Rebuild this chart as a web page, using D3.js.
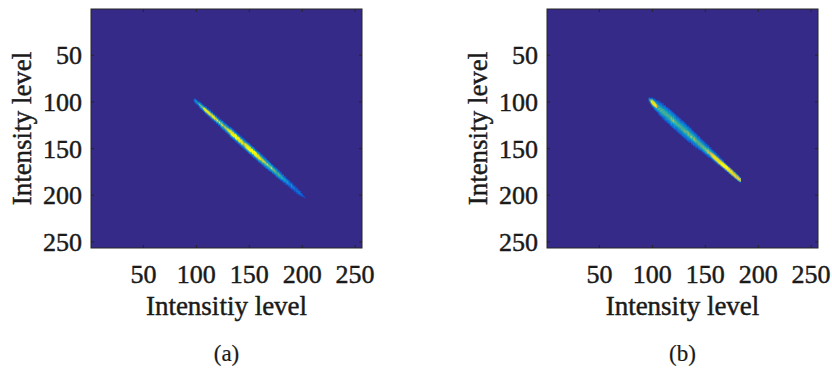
<!DOCTYPE html>
<html>
<head>
<meta charset="utf-8">
<script src="https://cdn.jsdelivr.net/npm/d3@7"></script>
<style>
  body { margin: 0; background: #fff; }
  text { font-family: "Liberation Serif", "Times New Roman", serif; fill: #1a1a1a; stroke: #1a1a1a; stroke-width: 0.45px; }
</style>
</head>
<body>
<div id="chart"></div>
<script>
// 2D joint histograms of intensity level (256 x 256 bins)
var ticks = [50, 100, 150, 200, 250];

// panel (a): one string per x bin, chars = level 0-9 for y = x + d, d centred on the string
var aStartX = 98;
var aRows = [
  "00001210000","00012321000","00013431000","00012421000",
  "00013531000","00124642100","00134643100","00125652100","00135653100","00146964100",
  "00159995100","01269996210","00159995100","01259995210","00169996100","01259995210",
  "00156965100","01269996210","00159995100","01269996210","00156965100","01256965210",
  "00146964100","01245654210","00146964100",
  "01345654310","01356965310","02346964320","01345654310","01246964210","02356965320",
  "01346964310","02359995320","01359995310",
  "12469996421","13599999531","12569999521","13599999531","12469996421","12599999521",
  "13599999531","12469996421","13599999531","12599999521","13469996431","12599999521",
  "13469996431","12456965421","13469996431","12599999521","13599999531",
  "13599999531","23599999532","13599999531","13469996431","13599999531","23469996432",
  "13599999531","12599999521","13599999531","13469996431","23599999532","13469996431",
  "12459995421","13456965431","12459995421","12346964321","12456965421","12345654321",
  "02346964320","12345654321","02345654320",
  "02345654320","01346964310","02345654320","01245654210","01345654310","01245554210",
  "02344544320","01234543210","01345654310","01234543210","01234443210","00134543100",
  "01223432210","00123432100","01123432110","00122322100","00123432100","00122322100",
  "00112321100",
  "00112221100","00123432100","00112221100","00012321000","00112221100","00011211000",
  "00112221100","00011211000","00012321000","00011211000","00001210000","00001110000",
  "00000100000","00000100000"
];

// panel (b): same layout
var bStartX = 97;
var bRows = [
  "00000002321000000","00000013653100000","00000136999310000","00001369999631000",
  "00001369999631000","00012369999632100","00012358998532100","00012347887432100",
  "00122345554432100","01122345455432110","01122344554432210","01223345455443210","01223445554433210",
  "11223355455443211","01223445554432210","12233445455432221","01223445554433211","12233445554433210",
  "11223345554432221","12233445545432210","12233445554432221","12233456665443321","12233445565432221",
  "12234456665432221","12233445554433321","12233445554432221","11223445554432211","12233444554432221",
  "12233445554433321","12233445554432221","11223445554432221","12233445455432211","12233445554433321",
  "12233445565432221","11223445565432221","12233445554432211","01233456554432221","12233456665432221",
  "01223445554432211","12233445565432210","01223445665432221","01223445554432210","01223445565432221",
  "01223456665432210","01223445565432211","01223445554432210","00122345554432100","01223445565432210",
  "00122445554432100","00122345565432100","00122445554431100","00122345665432100","00122345554431100",
  "00112345665432100","00122345565431100","00112345666531100","00122456676431100","00012345665431000",
  "00112346776531000","00012356887631000","00012358898631000","00012368999731000",
  "00012369999731000","00012379999731000","00001269999620000","00012379999731000","00001279999720000",
  "00001269999610000","00001279999720000","00001269999610000","00001279999710000","00000169999610000",
  "00000269999620000","00000169999610000","00000069999600000","00000168999610000","00000069998600000",
  "00000058999500000","00000069998600000","00000058998500000","00000048898400000","00000058998500000",
  "00000048898400000","00000037787300000","00000048898400000","00000027787200000","00000016676100000"
];

var panels = [
  { id: "a", left: 91, startX: aStartX, rows: aRows, xLabel: "Intensitiy level", caption: "(a)" },
  { id: "b", left: 547, startX: bStartX, rows: bRows, xLabel: "Intensity level", caption: "(b)" }
];

var W = 271, H = 239, top0 = 9;

// parula colormap
var parula = d3.scaleLinear()
  .domain(d3.range(9).map(function(i) { return i / 8; }))
  .range(["#352a87", "#0f5cdd", "#1481d6", "#06a4ca", "#2eb7a4", "#87bf77", "#d1bb59", "#fec832", "#f9fb0e"])
  .interpolate(d3.interpolateRgb);

var svg = d3.select("#chart").append("svg")
  .attr("width", 832)
  .attr("height", 372);

svg.append("rect").attr("width", 832).attr("height", 372).attr("fill", "#fff");

panels.forEach(function(p) {
  var x = d3.scaleLinear().domain([0.5, 256.5]).range([0, W]);
  var y = d3.scaleLinear().domain([0.5, 256.5]).range([0, H]);

  var g = svg.append("g").attr("transform", "translate(" + p.left + "," + top0 + ")");

  g.append("rect")
    .attr("width", W).attr("height", H)
    .attr("fill", parula(0));

  var cells = [];
  p.rows.forEach(function(row, i) {
    var half = (row.length - 1) / 2;
    for (var k = 0; k < row.length; k++) {
      var v = +row[k];
      if (v > 0) cells.push({ i: p.startX + i, j: p.startX + i + k - half, v: v });
    }
  });

  g.append("g").selectAll("rect")
    .data(cells)
    .join("rect")
    .attr("x", function(d) { return x(d.i - 0.5); })
    .attr("y", function(d) { return y(d.j - 0.5); })
    .attr("width", x(1.5) - x(0.5) + 0.3)
    .attr("height", y(1.5) - y(0.5) + 0.3)
    .attr("fill", function(d) { return parula(d.v / 9); });

  // box with inward ticks on all sides
  g.append("rect")
    .attr("width", W).attr("height", H)
    .attr("fill", "none")
    .attr("stroke", "#262626")
    .attr("stroke-width", 1);

  var tl = 3;
  ticks.forEach(function(t) {
    g.append("line").attr("x1", x(t)).attr("x2", x(t)).attr("y1", H).attr("y2", H - tl).attr("stroke", "#262626");
    g.append("line").attr("x1", x(t)).attr("x2", x(t)).attr("y1", 0).attr("y2", tl).attr("stroke", "#262626");
    g.append("line").attr("y1", y(t)).attr("y2", y(t)).attr("x1", 0).attr("x2", tl).attr("stroke", "#262626");
    g.append("line").attr("y1", y(t)).attr("y2", y(t)).attr("x1", W).attr("x2", W - tl).attr("stroke", "#262626");

    g.append("text")
      .attr("x", x(t)).attr("y", H + 35)
      .attr("text-anchor", "middle")
      .style("font-size", "26px")
      .text(t);
    g.append("text")
      .attr("x", -9).attr("y", y(t))
      .attr("dy", "0.35em")
      .attr("text-anchor", "end")
      .style("font-size", "26px")
      .text(t);
  });

  g.append("text")
    .attr("x", W / 2).attr("y", H + 67)
    .attr("text-anchor", "middle")
    .style("font-size", "27px")
    .text(p.xLabel);

  g.append("text")
    .attr("transform", "translate(-60," + (H / 2) + ") rotate(-90)")
    .attr("text-anchor", "middle")
    .style("font-size", "27px")
    .text("Intensity level");

  g.append("text")
    .attr("x", W / 2).attr("y", H + 113)
    .attr("text-anchor", "middle")
    .style("font-size", "23px")
    .style("stroke-width", "0.2px")
    .text(p.caption);
});
</script>
</body>
</html>
